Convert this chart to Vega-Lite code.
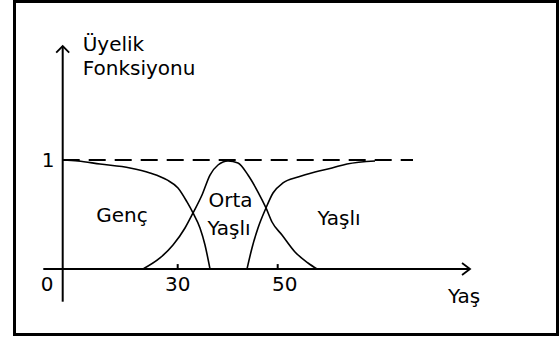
{
  "$schema": "https://vega.github.io/schema/vega-lite/v6.json",
  "autosize": {"type": "none"},
  "padding": {"left": 14.5, "top": 1.5, "right": 2.5, "bottom": 5.5},
  "width": 543,
  "height": 333,
  "config": {
    "view": {"stroke": "black", "strokeWidth": 3},
    "text": {"font": "DejaVu Sans", "fontSize": 20, "color": "black"}
  },
  "datasets": {
    "curves": [
      {"set": "Genç", "a": 7.0, "m": 1.0},
      {"set": "Genç", "a": 10.06, "m": 0.991},
      {"set": "Genç", "a": 14.46, "m": 0.963},
      {"set": "Genç", "a": 20.46, "m": 0.927},
      {"set": "Genç", "a": 24.46, "m": 0.881},
      {"set": "Genç", "a": 27.86, "m": 0.817},
      {"set": "Genç", "a": 30.06, "m": 0.743},
      {"set": "Genç", "a": 31.86, "m": 0.615},
      {"set": "Genç", "a": 33.06, "m": 0.514},
      {"set": "Genç", "a": 34.46, "m": 0.376},
      {"set": "Genç", "a": 35.46, "m": 0.22},
      {"set": "Genç", "a": 36.46, "m": 0},
      {"set": "Orta Yaşlı", "a": 23.06, "m": 0},
      {"set": "Orta Yaşlı", "a": 26.46, "m": 0.101},
      {"set": "Orta Yaşlı", "a": 29.06, "m": 0.22},
      {"set": "Orta Yaşlı", "a": 31.46, "m": 0.376},
      {"set": "Orta Yaşlı", "a": 33.06, "m": 0.514},
      {"set": "Orta Yaşlı", "a": 34.86, "m": 0.679},
      {"set": "Orta Yaşlı", "a": 36.46, "m": 0.862},
      {"set": "Orta Yaşlı", "a": 38.06, "m": 0.954},
      {"set": "Orta Yaşlı", "a": 40.06, "m": 0.991},
      {"set": "Orta Yaşlı", "a": 42.06, "m": 0.972},
      {"set": "Orta Yaşlı", "a": 44.06, "m": 0.862},
      {"set": "Orta Yaşlı", "a": 46.06, "m": 0.706},
      {"set": "Orta Yaşlı", "a": 47.66, "m": 0.56},
      {"set": "Orta Yaşlı", "a": 48.86, "m": 0.431},
      {"set": "Orta Yaşlı", "a": 50.86, "m": 0.312},
      {"set": "Orta Yaşlı", "a": 53.46, "m": 0.156},
      {"set": "Orta Yaşlı", "a": 56.06, "m": 0.055},
      {"set": "Orta Yaşlı", "a": 57.86, "m": 0},
      {"set": "Yaşlı", "a": 43.86, "m": 0},
      {"set": "Yaşlı", "a": 44.86, "m": 0.193},
      {"set": "Yaşlı", "a": 46.06, "m": 0.376},
      {"set": "Yaşlı", "a": 47.66, "m": 0.56},
      {"set": "Yaşlı", "a": 49.06, "m": 0.697},
      {"set": "Yaşlı", "a": 51.06, "m": 0.789},
      {"set": "Yaşlı", "a": 54.06, "m": 0.844},
      {"set": "Yaşlı", "a": 57.46, "m": 0.89},
      {"set": "Yaşlı", "a": 60.86, "m": 0.927},
      {"set": "Yaşlı", "a": 63.86, "m": 0.963},
      {"set": "Yaşlı", "a": 69.46, "m": 0.991}
    ],
    "axes": [
      {"a": 7.0, "a2": 7.0, "m": -0.3, "m2": 2.045},
      {"a": 3.12, "a2": 88.4, "m": 0, "m2": 0},
      {"a": 30, "a2": 30, "m": 0, "m2": 0.045},
      {"a": 50, "a2": 50, "m": 0, "m2": 0.045}
    ],
    "ref": [
      {"a": 7.0, "a2": 77.06, "m": 1, "m2": 1}
    ],
    "ytip": [{"a": 7.0, "m": 2.045}],
    "xtip": [{"a": 88.46, "m": 0}],
    "labels": [
      {"t": "1", "a": 4.06, "m": 0.939},
      {"t": "0", "a": 3.86, "m": -0.202},
      {"t": "30", "a": 30, "m": -0.202},
      {"t": "50", "a": 51.4, "m": -0.202},
      {"t": "Genç", "a": 18.86, "m": 0.431},
      {"t": "Orta", "a": 40.56, "m": 0.569},
      {"t": "Yaşlı", "a": 40.26, "m": 0.312},
      {"t": "Yaşlı", "a": 62.26, "m": 0.404},
      {"t": "Yaş", "a": 87.26, "m": -0.312}
    ],
    "title": [
      {"t": "Üyelik", "a": 11.0, "m": 2.0},
      {"t": "Fonksiyonu", "a": 11.0, "m": 1.78}
    ]
  },
  "layer": [
    {
      "data": {"name": "ref"},
      "mark": {"type": "rule", "color": "black", "strokeWidth": 2, "strokeDash": [17, 9]},
      "encoding": {
        "x": {"field": "a", "type": "quantitative", "scale": {"domain": [-2.64, 105.96], "nice": false, "zero": false}, "axis": null},
        "x2": {"field": "a2"},
        "y": {"field": "m", "type": "quantitative", "scale": {"domain": [-0.601, 2.454], "nice": false, "zero": false}, "axis": null},
        "y2": {"field": "m2"}
      }
    },
    {
      "data": {"name": "curves"},
      "mark": {"type": "line", "color": "black", "strokeWidth": 1.6, "interpolate": "monotone"},
      "encoding": {
        "x": {"field": "a", "type": "quantitative", "scale": {"domain": [-2.64, 105.96], "nice": false, "zero": false}, "axis": null},
        "y": {"field": "m", "type": "quantitative", "scale": {"domain": [-0.601, 2.454], "nice": false, "zero": false}, "axis": null},
        "detail": {"field": "set"}
      }
    },
    {
      "data": {"name": "axes"},
      "mark": {"type": "rule", "color": "black", "strokeWidth": 2},
      "encoding": {
        "x": {"field": "a", "type": "quantitative", "scale": {"domain": [-2.64, 105.96], "nice": false, "zero": false}, "axis": null},
        "x2": {"field": "a2"},
        "y": {"field": "m", "type": "quantitative", "scale": {"domain": [-0.601, 2.454], "nice": false, "zero": false}, "axis": null},
        "y2": {"field": "m2"}
      }
    },
    {
      "data": {"name": "ytip"},
      "mark": {"type": "point", "shape": "M -1 1 L 0 0 L 1 1", "size": 169, "filled": false, "stroke": "black", "strokeWidth": 1.8, "opacity": 1},
      "encoding": {
        "x": {"field": "a", "type": "quantitative", "scale": {"domain": [-2.64, 105.96], "nice": false, "zero": false}, "axis": null},
        "y": {"field": "m", "type": "quantitative", "scale": {"domain": [-0.601, 2.454], "nice": false, "zero": false}, "axis": null}
      }
    },
    {
      "data": {"name": "xtip"},
      "mark": {"type": "point", "shape": "M -1.33 -1 L 0 0 L -1.33 1", "size": 144, "filled": false, "stroke": "black", "strokeWidth": 1.8, "opacity": 1},
      "encoding": {
        "x": {"field": "a", "type": "quantitative", "scale": {"domain": [-2.64, 105.96], "nice": false, "zero": false}, "axis": null},
        "y": {"field": "m", "type": "quantitative", "scale": {"domain": [-0.601, 2.454], "nice": false, "zero": false}, "axis": null}
      }
    },
    {
      "data": {"name": "labels"},
      "mark": {"type": "text", "align": "center", "baseline": "alphabetic"},
      "encoding": {
        "x": {"field": "a", "type": "quantitative", "scale": {"domain": [-2.64, 105.96], "nice": false, "zero": false}, "axis": null},
        "y": {"field": "m", "type": "quantitative", "scale": {"domain": [-0.601, 2.454], "nice": false, "zero": false}, "axis": null},
        "text": {"field": "t"}
      }
    },
    {
      "data": {"name": "title"},
      "mark": {"type": "text", "align": "left", "baseline": "alphabetic"},
      "encoding": {
        "x": {"field": "a", "type": "quantitative", "scale": {"domain": [-2.64, 105.96], "nice": false, "zero": false}, "axis": null},
        "y": {"field": "m", "type": "quantitative", "scale": {"domain": [-0.601, 2.454], "nice": false, "zero": false}, "axis": null},
        "text": {"field": "t"}
      }
    }
  ]
}
